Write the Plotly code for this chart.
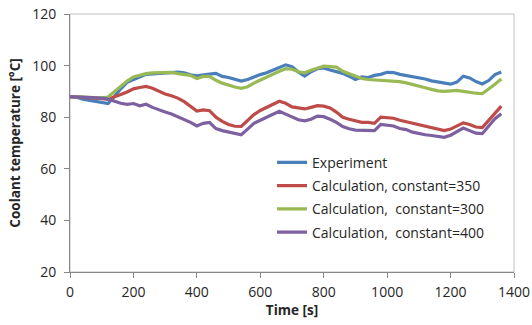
import plotly.graph_objects as go

time_s = list(range(0, 1361, 20))

experiment = [
    88.0, 87.7, 87.0, 86.5, 86.0, 85.7, 85.3, 88.0, 91.0, 93.5,
    94.5, 95.8, 96.6, 96.8, 97.0, 97.3, 97.6, 97.5, 97.2, 96.4,
    96.0, 96.5, 96.7, 97.0, 95.8, 95.4, 94.6, 94.0, 94.6, 95.6,
    96.5, 97.2, 98.3, 99.2, 100.3, 99.6, 97.5, 95.9, 97.6, 98.8,
    99.1, 98.3, 97.8, 97.0, 95.9, 94.6, 95.6, 95.4, 96.2, 96.6,
    97.4, 97.3, 96.6, 96.2, 95.6, 95.2, 94.8, 94.1, 93.6, 93.0,
    92.8, 93.6, 95.9, 95.2, 93.8, 92.9, 94.2, 96.5, 97.5,
]

calc_350 = [
    88.0, 87.9, 87.7, 87.5, 87.4, 87.2, 87.0, 87.8, 88.8, 89.8,
    91.0, 91.5, 91.9, 91.2, 90.0, 89.0, 88.3, 87.4, 86.0, 84.2,
    82.4, 82.8, 82.5, 80.0, 78.4, 77.2, 76.5, 76.4, 78.6, 81.0,
    82.6, 83.8, 85.0, 86.2, 85.4, 84.0, 83.6, 83.2, 83.8, 84.5,
    84.3, 83.6, 82.0, 80.0, 79.2, 78.7, 78.0, 78.0, 77.6, 80.0,
    79.8, 79.6, 78.8, 78.2, 77.6, 77.2, 76.4, 75.8, 75.3, 74.8,
    75.4, 76.5, 77.8, 77.2, 76.2, 76.0, 78.8, 81.8, 84.3,
]

calc_300 = [
    88.0, 87.9, 87.8, 87.7, 87.6, 87.5, 87.8, 89.8, 92.0, 94.0,
    95.6, 96.4, 96.9, 97.2, 97.3, 97.6, 97.4, 96.9, 96.6, 96.2,
    95.0, 95.8, 95.8, 94.3, 93.2, 92.4, 91.7, 91.2, 91.8, 93.2,
    94.4, 95.6, 96.6, 97.8, 98.8, 98.6, 97.6, 97.2, 98.2, 99.0,
    99.8, 99.6, 99.4, 97.8, 96.8, 95.8, 95.0, 94.6, 94.4, 94.5,
    94.2, 93.9, 93.8, 93.3, 92.6, 91.8, 91.4, 90.8, 90.2, 90.0,
    90.3, 90.4, 90.0, 89.5, 89.3, 89.1, 90.8, 92.8, 94.8,
]

calc_400 = [
    88.0, 87.9, 87.8, 87.6, 87.5, 87.4, 87.0, 86.2, 85.4, 85.0,
    85.3, 84.4, 85.0, 83.8, 82.8, 82.0, 81.2, 80.2, 79.2, 78.0,
    76.6, 77.6, 78.0, 75.6, 74.8, 74.2, 73.5, 73.2, 75.4, 77.6,
    78.8, 80.0, 81.2, 82.3, 81.2, 80.0, 79.0, 78.6, 79.2, 80.4,
    80.2, 79.2, 78.0, 76.4, 75.5, 75.0, 74.9, 75.0, 74.8, 77.2,
    77.0, 76.6, 75.6, 75.2, 74.2, 73.6, 73.2, 72.9, 72.5, 72.2,
    73.0, 74.3, 75.8, 74.8, 73.8, 73.6, 76.5, 79.4, 81.3,
]

series_names = [
    "Experiment",
    "Calculation, constant=350",
    "Calculation,  constant=300",
    "Calculation,  constant=400",
]
series_values = [experiment, calc_350, calc_300, calc_400]
series_colors = ["#4A7EBB", "#BE4B48", "#98B954", "#7D60A0"]

x_ticks = [0, 200, 400, 600, 800, 1000, 1200, 1400]
y_ticks = [20, 40, 60, 80, 100, 120]

FONT = "Open Sans"

fig = go.Figure()
for i, (name, vals, col) in enumerate(zip(series_names, series_values, series_colors)):
    fig.add_trace(go.Scatter(
        x=time_s, y=vals, mode="lines", name=name,
        line=dict(color=col, width=3.2),
        legendgroup=f"g{i}",
    ))

axis_common = dict(
    showgrid=False, zeroline=False, showline=True,
    linecolor="#868686", linewidth=1,
    ticks="outside", ticklen=5, tickcolor="#868686",
    tickfont=dict(family=FONT, size=14, color="#262626"),
    automargin=False,
)

fig.update_layout(
    width=532, height=325,
    margin=dict(l=70, r=18, t=14, b=53),
    paper_bgcolor="white", plot_bgcolor="white",
    font=dict(family=FONT, color="#262626"),
    showlegend=True,
    legend=dict(
        x=0.455, y=0.485, xanchor="left", yanchor="top",
        bgcolor="rgba(0,0,0,0)",
        font=dict(family=FONT, size=14, color="#262626"),
        traceorder="grouped", tracegroupgap=2,
        itemwidth=30,
    ),
    xaxis=dict(
        range=[0, 1400], tickvals=x_ticks,
        title=dict(text="<b>Time [s]</b>", font=dict(family=FONT, size=13.5), standoff=4),
        ticklabelstandoff=2,
        **axis_common,
    ),
    yaxis=dict(
        range=[20, 120], tickvals=y_ticks,
        title=dict(text="<b>Coolant temperature [°C]</b>", font=dict(family=FONT, size=13.5), standoff=8),
        ticklabelstandoff=5,
        **axis_common,
    ),
    shapes=[dict(
        type="rect", xref="paper", yref="paper", x0=0, x1=1, y0=0, y1=1,
        line=dict(color="#BFBFBF", width=1), layer="below",
    )],
)

fig.write_html(
    "out.html",
    config={"displayModeBar": False},
    post_script="document.body.style.margin='0';document.body.style.overflow='hidden';",
)
